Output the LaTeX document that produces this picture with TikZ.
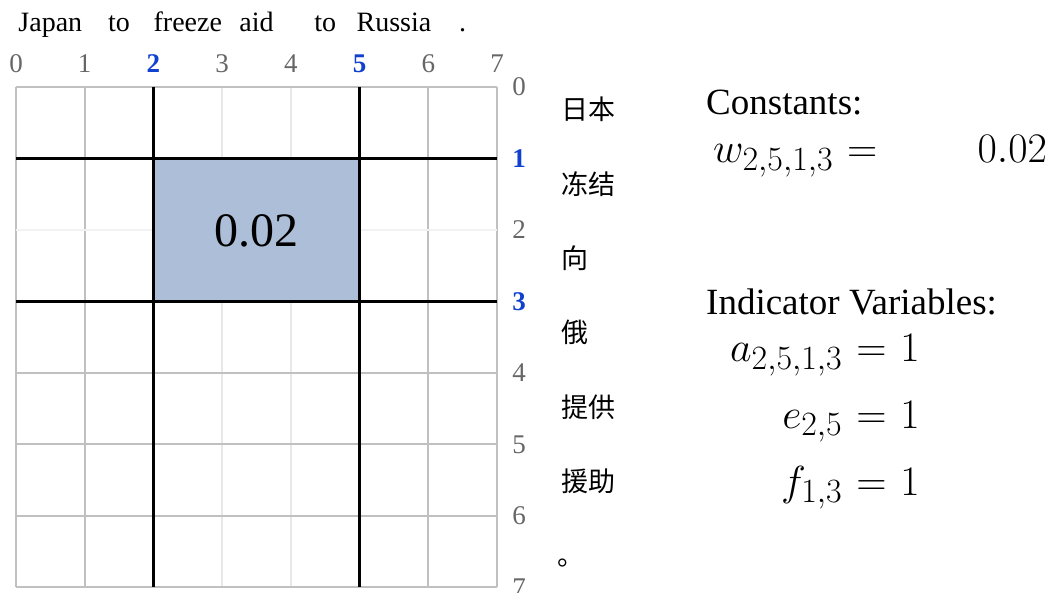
\RequirePackage{fix-cm}
\documentclass[tikz,border=0pt]{standalone}
\usepackage{fontspec}
\setmainfont{Liberation Serif}
\newfontfamily\cjk{Noto Sans CJK SC}
\DeclareMathSizes{42}{42}{34}{26}
\definecolor{tickgray}{HTML}{666666}
\definecolor{tickblue}{HTML}{1040D0}
\definecolor{gridgray}{HTML}{C0C0C0}
\definecolor{gridlight}{HTML}{E8E8E8}
\definecolor{gridwhite}{HTML}{F2F2F2}
\definecolor{cellblue}{HTML}{ADBFD8}
\newcommand{\eqsp}{\mkern1mu}
\begin{document}
\begin{tikzpicture}[x=1pt,y=-1pt,
  word/.style={anchor=base,inner sep=0pt,font=\fontsize{28}{32}\selectfont},
  tick/.style={anchor=base,inner sep=0pt,text=tickgray,font=\fontsize{27}{30}\selectfont},
  tickhl/.style={anchor=base,inner sep=0pt,text=tickblue,font=\fontsize{27}{30}\selectfont\bfseries},
  zh/.style={anchor=base west,inner sep=0pt,font=\cjk\fontsize{27}{30}\selectfont},
  head/.style={anchor=base west,inner sep=0pt,font=\fontsize{37}{42}\selectfont},
  eq/.style={inner sep=0pt,font=\fontsize{42}{48}\selectfont},
  gl/.style={line width=2pt,draw=gridgray},
  ll/.style={line width=1.5pt,draw=gridlight},
  wl/.style={line width=2pt,draw=gridwhite},
  bl/.style={line width=2.5pt,draw=black}]
\useasboundingbox (0,0) rectangle (1049,593);
\def\X#1{16+68.714*#1}
\def\Y#1{87+71.43*#1}
% light column lines
\foreach \i in {3,4} \draw[ll] ({\X{\i}},{\Y{0}}) -- ({\X{\i}},{\Y{7}});
% gray lines
\foreach \i in {0,1,6,7} \draw[gl] ({\X{\i}},{\Y{0}}) -- ({\X{\i}},{\Y{7}});
\foreach \j in {0,4,5,6,7} \draw[gl] ({\X{0}},{\Y{\j}}) -- ({\X{7}},{\Y{\j}});
% near-white row line
\draw[wl] ({\X{0}},{\Y{2}}) -- ({\X{7}},{\Y{2}});
% highlighted cell
\fill[cellblue] ({\X{2}},{\Y{1}}) rectangle ({\X{5}},{\Y{3}});
\node[anchor=base,inner sep=0pt,font=\fontsize{48}{54}\selectfont] (val) at ({\X{3.5}},247) {0.02};
% black lines
\foreach \i in {2,5} \draw[bl] ({\X{\i}},{\Y{0}}) -- ({\X{\i}},{\Y{7}});
\foreach \j in {1,3} \draw[bl] ({\X{0}},{\Y{\j}}) -- ({\X{7}},{\Y{\j}});
% top words
\node[word] (w0) at ({\X{0.5}},32) {Japan};
\node[word] (w1) at ({\X{1.5}},32) {to};
\node[word] (w2) at ({\X{2.5}},32) {freeze};
\node[word] (w3) at ({\X{3.5}},32) {aid};
\node[word] (w4) at ({\X{4.5}},32) {to};
\node[word] (w5) at ({\X{5.5}},32) {Russia};
\node[word] (w6) at ({\X{6.5}},32) {.};
% column ticks
\foreach \i in {0,1,3,4,6,7} \node[tick] (c\i) at ({\X{\i}},73) {\i};
\foreach \i in {2,5} \node[tickhl] (c\i) at ({\X{\i}},73) {\i};
% row ticks
\foreach \j in {0,2,4,5,6,7} \node[tick] (r\j) at (519,{\Y{\j}+9}) {\j};
\foreach \j in {1,3} \node[tickhl] (r\j) at (519,{\Y{\j}+9}) {\j};
% chinese words
\node[zh] (z0) at (561,120) {日本};
\node[zh] (z1) at (561,195) {冻结};
\node[zh] (z2) at (561,269) {向};
\node[zh] (z3) at (561,343) {俄};
\node[zh] (z4) at (561,417) {提供};
\node[zh] (z5) at (561,491) {援助};
\node[zh] (z6) at (557,565) {。};
% right panel
\node[head] (hc) at (706,115) {Constants:};
\node[eq,anchor=base west] (weq) at (713,163) {$w_{2,5,1,3}\eqsp =$};
\node[eq,anchor=base east] (wval) at (1047,163) {$0.02$};
\node[head] (hi) at (706,315) {Indicator Variables:};
\node[eq,anchor=base east] (aeq) at (920,362) {$a_{2,5,1,3}\eqsp =\eqsp 1$};
\node[eq,anchor=base east] (eeq) at (920,428) {$e_{2,5}\eqsp =\eqsp 1$};
\node[eq,anchor=base east] (feq) at (920,495) {$f_{1,3}\eqsp =\eqsp 1$};
\end{tikzpicture}
\end{document}
